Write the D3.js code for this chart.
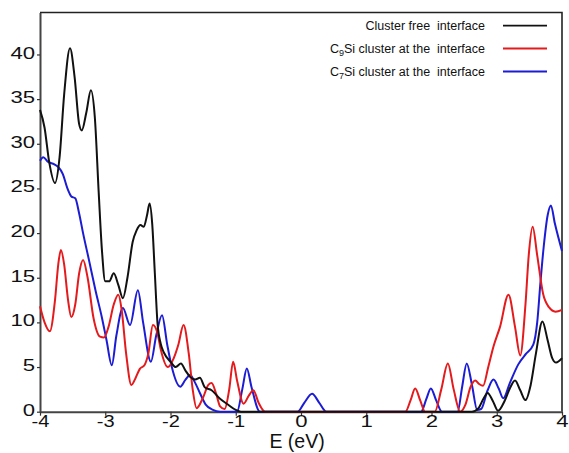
<!DOCTYPE html>
<html>
<head>
<meta charset="utf-8">
<script src="https://cdn.jsdelivr.net/npm/d3@7"></script>
<style>
  body { margin: 0; background: #fff; }
  text { font-family: "Liberation Sans", Arial, sans-serif; white-space: pre; }
</style>
</head>
<body>
<div id="graph"></div>
<script>
// DOS curves as [E (eV), value]
const clusterFree = [
  [-4.00, 33.8], [-3.93, 31.8], [-3.86, 28.0], [-3.77, 25.6], [-3.70, 28.5], [-3.63, 35.5],
  [-3.54, 40.7], [-3.47, 37.5], [-3.40, 32.2], [-3.36, 31.5], [-3.29, 33.5], [-3.22, 36.0],
  [-3.16, 33.0], [-3.10, 24.5], [-3.05, 18.0], [-3.00, 14.6], [-2.94, 14.6], [-2.87, 15.5],
  [-2.80, 14.2], [-2.73, 12.7], [-2.66, 15.0], [-2.58, 19.0], [-2.52, 20.3], [-2.46, 20.9],
  [-2.41, 20.7], [-2.36, 22.0], [-2.32, 23.3], [-2.28, 21.0], [-2.24, 15.5], [-2.20, 10.0],
  [-2.15, 7.6], [-2.10, 6.6], [-2.00, 5.6], [-1.92, 5.0], [-1.84, 5.4], [-1.77, 4.6],
  [-1.70, 3.9], [-1.62, 3.6], [-1.55, 3.8], [-1.47, 2.7], [-1.37, 2.4], [-1.25, 1.5],
  [-1.12, 0.8], [-1.00, 0.2], [-0.92, 0], [2.62, 0], [2.72, 0.4], [2.80, 1.5], [2.86, 2.1],
  [2.94, 1.2], [3.02, 0.1], [3.12, 1.2], [3.20, 2.6], [3.28, 3.5], [3.36, 2.4], [3.44, 1.3],
  [3.52, 3.0], [3.60, 6.5], [3.70, 10.1], [3.78, 8.0], [3.85, 6.0], [3.91, 5.5], [4.00, 6.0]
];

const c9si = [
  [-4.00, 11.8], [-3.93, 10.0], [-3.85, 9.0], [-3.77, 12.5], [-3.72, 16.5], [-3.68, 18.1],
  [-3.63, 16.5], [-3.57, 12.5], [-3.52, 10.6], [-3.46, 12.0], [-3.40, 15.5], [-3.34, 17.0],
  [-3.27, 15.0], [-3.18, 10.5], [-3.08, 8.4], [-3.02, 8.3], [-2.95, 9.5], [-2.87, 12.0],
  [-2.80, 13.1], [-2.75, 11.5], [-2.68, 6.5], [-2.60, 3.0], [-2.54, 3.7], [-2.47, 4.8],
  [-2.40, 5.2], [-2.34, 6.5], [-2.27, 9.7], [-2.20, 8.8], [-2.15, 7.0], [-2.04, 5.0],
  [-1.95, 6.0], [-1.88, 7.5], [-1.80, 9.7], [-1.72, 6.5], [-1.66, 2.5], [-1.60, 0.4],
  [-1.50, 1.6], [-1.42, 3.0], [-1.37, 3.2], [-1.30, 2.0], [-1.24, 0.6], [-1.17, 0.3],
  [-1.10, 2.5], [-1.04, 5.6], [-0.98, 3.5], [-0.88, 0.9], [-0.80, 1.8], [-0.73, 2.4],
  [-0.65, 1.0], [-0.55, 0], [1.60, 0], [1.68, 1.3], [1.75, 2.6], [1.83, 1.2], [1.90, 0],
  [2.05, 0], [2.15, 2.5], [2.25, 5.4], [2.34, 2.5], [2.44, 0], [2.52, 0.8], [2.60, 2.8],
  [2.67, 3.5], [2.73, 3.1], [2.79, 2.9], [2.87, 5.0], [2.95, 7.3], [3.05, 9.5], [3.18, 13.1],
  [3.28, 9.5], [3.36, 6.3], [3.44, 12.0], [3.49, 17.5], [3.55, 20.7], [3.62, 17.5],
  [3.71, 13.2], [3.80, 11.7], [3.90, 11.2], [4.00, 11.4]
];

const c7si = [
  [-4.00, 28.1], [-3.95, 28.5], [-3.88, 28.0], [-3.78, 27.7], [-3.72, 27.4], [-3.65, 26.6],
  [-3.58, 25.0], [-3.52, 24.1], [-3.46, 23.9], [-3.40, 22.2], [-3.34, 20.0], [-3.25, 17.0],
  [-3.15, 13.6], [-3.05, 10.5], [-2.98, 8.0], [-2.90, 5.2], [-2.83, 8.5], [-2.73, 11.6],
  [-2.62, 9.7], [-2.50, 13.6], [-2.42, 10.0], [-2.30, 5.6], [-2.22, 8.5], [-2.13, 10.8],
  [-2.05, 7.5], [-1.98, 5.0], [-1.85, 2.8], [-1.77, 3.6], [-1.70, 4.1], [-1.62, 3.2],
  [-1.55, 2.1], [-1.46, 0.8], [-1.35, 0.2], [-1.24, 0], [-0.98, 0], [-0.90, 2.5],
  [-0.83, 4.85], [-0.76, 2.8], [-0.63, 0], [-0.05, 0], [0.05, 1.0], [0.17, 2.0], [0.28, 1.0],
  [0.39, 0], [1.84, 0], [1.92, 1.4], [1.99, 2.6], [2.07, 1.3], [2.16, 0], [2.40, 0],
  [2.47, 2.8], [2.54, 5.4], [2.62, 3.0], [2.70, 0.2], [2.76, 0.3], [2.86, 2.4], [2.95, 3.6],
  [3.03, 2.6], [3.10, 1.5], [3.20, 3.2], [3.33, 5.3], [3.45, 6.5], [3.56, 7.5], [3.62, 10.0],
  [3.67, 14.5], [3.72, 18.5], [3.78, 22.0], [3.83, 23.1], [3.89, 21.1], [4.00, 18.0]
];

const xTicks = [-4, -3, -2, -1, 0, 1, 2, 3, 4];
const yTicks = [0, 5, 10, 15, 20, 25, 30, 35, 40];
const seriesNames = ["Cluster free  interface", "C9Si cluster at the  interface", "C7Si cluster at the  interface"];
const seriesColors = ["#111111", "#e41a1c", "#1c1cd4"];

//Display specifications
const W = 569, H = 453;
const margin = {top: 12.5, right: 7, bottom: 41.3, left: 40};
const width = W - margin.left - margin.right;
const height = H - margin.top - margin.bottom;

var svg = d3.select("div#graph").append("svg")
    .attr("width", W)
    .attr("height", H);

var container = svg.append("g")
    .attr("transform", "translate(" + margin.left + "," + margin.top + ")");

var x = d3.scaleLinear().domain([-4, 4]).range([0, width]);
var y = d3.scaleLinear().domain([0, 44.7]).range([height, 0]);

//Frame
container.append("path")
    .attr("d", "M0,0H" + width + "V" + height)
    .attr("fill", "none")
    .attr("stroke", "#222")
    .attr("stroke-width", 1.6);

//X axis
var xAxis = container.append("g")
    .attr("transform", "translate(0," + height + ")")
    .call(d3.axisBottom(x).tickValues(xTicks).tickFormat(d => String(d)).tickSizeInner(4).tickSizeOuter(0).tickPadding(1));

//Y axis
var yAxis = container.append("g")
    .call(d3.axisLeft(y).tickValues(yTicks).tickFormat(d => String(d)).tickSizeInner(3).tickSizeOuter(0).tickPadding(2));

// wide digits like the original figure
function labelWidth(s) {
    return s.replace("-", "").length * 12.3 + (s.indexOf("-") >= 0 ? 5.5 : 0);
}

[xAxis, yAxis].forEach(function (g) {
    g.select(".domain").attr("stroke", "#444").attr("stroke-width", 2);
    g.selectAll(".tick line").attr("stroke", "#333").attr("stroke-width", 1.2);
    g.selectAll(".tick text")
        .attr("fill", "#111")
        .style("font-size", "16px")
        .style("font-family", "'Liberation Sans', Arial, sans-serif")
        .attr("textLength", d => labelWidth(String(d)))
        .attr("lengthAdjust", "spacingAndGlyphs");
});
xAxis.selectAll(".tick text").attr("dy", "0.67em");
yAxis.selectAll(".tick text").attr("dy", "0.22em");

//X label
container.append("text")
    .attr("x", x(-0.06))
    .attr("y", height + 36.5)
    .attr("text-anchor", "middle")
    .style("font-size", "19.5px")
    .attr("fill", "#111")
    .text("E (eV)");

//Curves
var line = d3.line()
    .x(d => x(d[0]))
    .y(d => y(d[1]))
    .curve(d3.curveMonotoneX);

[c7si, c9si, clusterFree].forEach(function (s) {
    var i = s === clusterFree ? 0 : (s === c9si ? 1 : 2);
    container.append("path")
        .attr("d", line(s))
        .attr("fill", "none")
        .attr("stroke", seriesColors[i])
        .attr("stroke-width", 2)
        .attr("stroke-linejoin", "round");
});

//Legend
var legend = container.append("g");
var legY = [13.2, 36, 59];
seriesNames.forEach(function (name, i) {
    var t = legend.append("text")
        .attr("x", 445)
        .attr("y", legY[i] + 4)
        .attr("text-anchor", "end")
        .style("font-size", "12.5px")
        .attr("fill", "#111");
    var m = name.match(/^C(\d)Si(.*)$/);
    if (m) {
        t.append("tspan").text("C");
        t.append("tspan").attr("dy", 3).style("font-size", "9px").text(m[1]);
        t.append("tspan").attr("dy", -3).text("Si" + m[2]);
    } else {
        t.text(name);
    }
    legend.append("line")
        .attr("x1", 463).attr("x2", 507)
        .attr("y1", legY[i]).attr("y2", legY[i])
        .attr("stroke", seriesColors[i])
        .attr("stroke-width", 1.8);
});
</script>
</body>
</html>
